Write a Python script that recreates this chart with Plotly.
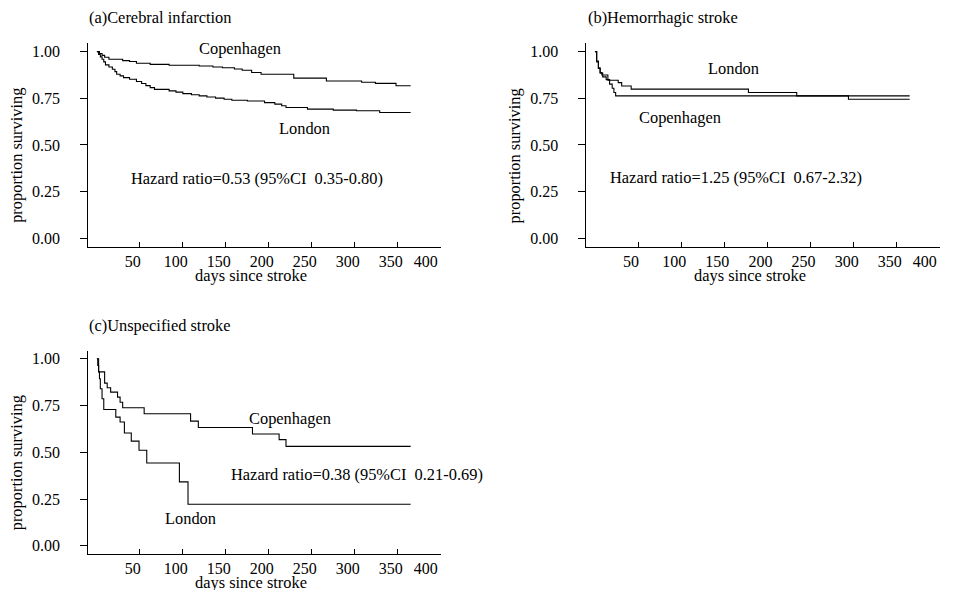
import plotly.graph_objects as go

W, H = 956, 590

# ---------------- data ----------------
# (a) Cerebral infarction
a_cph_days = [0, 3, 6, 9, 14, 30, 38, 46, 62, 84, 119, 135, 146, 160, 169, 180, 191, 229, 267, 308, 324, 348, 365]
a_cph_surv = [1.0, 0.99, 0.98, 0.97, 0.959, 0.952, 0.947, 0.938, 0.932, 0.927, 0.923, 0.918, 0.914, 0.907, 0.900,
              0.888, 0.879, 0.858, 0.843, 0.836, 0.830, 0.817, 0.817]
a_lon_days = [0, 2, 4, 6, 8, 10, 14, 18, 21, 23, 27, 31, 38, 46, 52, 57, 62, 67, 84, 92, 100, 110, 119, 128, 138,
              148, 157, 175, 195, 207, 215, 220, 245, 275, 302, 329, 365]
a_lon_surv = [1.0, 0.985, 0.972, 0.959, 0.945, 0.929, 0.918, 0.906, 0.893, 0.879, 0.870, 0.861, 0.852, 0.840, 0.829,
              0.818, 0.807, 0.798, 0.790, 0.783, 0.775, 0.769, 0.763, 0.757, 0.751, 0.745, 0.740, 0.736, 0.727,
              0.719, 0.710, 0.701, 0.692, 0.687, 0.683, 0.674, 0.674]

# (b) Hemorrhagic stroke
b_lon_days = [0, 2, 4, 6, 8, 15, 27, 31, 42, 178, 234, 294, 365]
b_lon_surv = [1.0, 0.95, 0.914, 0.888, 0.875, 0.847, 0.834, 0.816, 0.799, 0.781, 0.763, 0.745, 0.745]
b_cph_days = [0, 2, 4, 6, 9, 13, 17, 20, 22, 24, 365]
b_cph_surv = [1.0, 0.945, 0.91, 0.885, 0.865, 0.850, 0.826, 0.804, 0.781, 0.763, 0.763]

# (c) Unspecified stroke
c_cph_days = [0, 2, 9, 12, 16, 24, 27, 30, 55, 109, 118, 181, 212, 220, 365]
c_cph_surv = [1.0, 0.930, 0.870, 0.845, 0.822, 0.795, 0.768, 0.738, 0.706, 0.667, 0.633, 0.598, 0.568, 0.532, 0.532]
c_lon_days = [0, 1, 2, 3, 4, 6, 8, 22, 27, 32, 40, 49, 58, 96, 106, 365]
c_lon_surv = [1.0, 0.964, 0.93, 0.893, 0.84, 0.786, 0.729, 0.688, 0.662, 0.603, 0.560, 0.511, 0.443, 0.342, 0.222, 0.222]

x_tickvals = [50, 100, 150, 200, 250, 300, 350, 400]
x_ticktext = ["50", "100", "150", "200", "250", "300", "350", "400\u2003"]
y_tickvals = [0, 0.25, 0.5, 0.75, 1.0]
y_ticktext = ["0.00", "0.25", "0.50", "0.75", "1.00"]

panel_titles = ["(a)Cerebral infarction", "(b)Hemorrhagic stroke", "(c)Unspecified stroke"]
hazard_texts = ["Hazard ratio=0.53 (95%CI \u00a00.35-0.80)",
                "Hazard ratio=1.25 (95%CI \u00a00.67-2.32)",
                "Hazard ratio=0.38 (95%CI \u00a00.21-0.69)"]
x_title = "days since stroke"
y_title = "proportion surviving"

# ---------------- layout helpers ----------------
FONT = "Liberation Serif"
OFF = 8  # default body margin of the html page


def px(x):
    return (x - OFF) / W


def py(y):
    return 1 - (y - OFF) / H


fig = go.Figure()
line = dict(color="black", width=1.1, shape="hv")
series = [
    (a_cph_days, a_cph_surv, "x", "y"),
    (a_lon_days, a_lon_surv, "x", "y"),
    (b_lon_days, b_lon_surv, "x2", "y2"),
    (b_cph_days, b_cph_surv, "x2", "y2"),
    (c_cph_days, c_cph_surv, "x3", "y3"),
    (c_lon_days, c_lon_surv, "x3", "y3"),
]
for xs, ys, xa, ya in series:
    fig.add_trace(go.Scatter(x=xs, y=ys, mode="lines", line=line, xaxis=xa, yaxis=ya,
                             hoverinfo="skip", showlegend=False))


def xaxis(domain, rng, anchor):
    return dict(domain=domain, range=rng, anchor=anchor, showline=True, linecolor="black", linewidth=1,
                ticks="inside", ticklen=5, tickcolor="black", tickwidth=1,
                tickvals=x_tickvals, ticktext=x_ticktext, showgrid=False, zeroline=False,
                tickfont=dict(family=FONT, size=16, color="black"),
                ticklabelshift=-7, ticklabelstandoff=0, fixedrange=True)


def yaxis(domain, rng, anchor, standoff):
    return dict(domain=domain, range=rng, anchor=anchor, showline=True, linecolor="black", linewidth=1,
                ticks="outside", ticklen=7, tickcolor="black", tickwidth=1,
                tickvals=y_tickvals, ticktext=y_ticktext, showgrid=False, zeroline=False,
                tickfont=dict(family=FONT, size=16, color="black"),
                ticklabelstandoff=standoff, fixedrange=True)


fig.update_layout(
    width=W, height=H,
    margin=dict(l=0, r=0, t=0, b=0),
    paper_bgcolor="white", plot_bgcolor="rgba(0,0,0,0)",
    showlegend=False,
    xaxis=xaxis([px(89.4), px(446.7)], [-10, 400], "y"),
    yaxis=yaxis([py(246.7), py(42.3)], [-0.048, 1.045], "x", 17),
    xaxis2=xaxis([px(594.3), px(952.7)], [-10, 400], "y2"),
    yaxis2=yaxis([py(246.7), py(42.3)], [-0.048, 1.045], "x2", 17),
    xaxis3=xaxis([px(89.4), px(446.7)], [-10, 400], "y3"),
    yaxis3=yaxis([py(554), py(350.7)], [-0.044, 1.041], "x3", 17),
)

tf = dict(family=FONT, size=16.4, color="black")
ann = []


def text(x, y, s, xanchor="center", angle=0):
    ann.append(dict(x=px(x), y=py(y), xref="paper", yref="paper", text=s, showarrow=False,
                    xanchor=xanchor, yanchor="middle", font=tf, textangle=angle))


# panel titles
text(88.3, 17, panel_titles[0], "left")
text(594.3, 17, panel_titles[1], "left")
text(88.3, 325.5, panel_titles[2], "left")
# curve labels
text(243.3, 48, "Copenhagen")
text(309, 128, "London")
text(743, 68, "London")
text(689.7, 117, "Copenhagen")
text(294, 418, "Copenhagen")
text(192.8, 518, "London")
# hazard ratios
text(260, 178, hazard_texts[0])
text(746.2, 177, hazard_texts[1])
text(231.7, 474, hazard_texts[2], "left")
# axis titles
text(254, 275, x_title)
text(760, 275, x_title)
text(254.3, 582, x_title)
text(16.7, 154.5, y_title, angle=-90)
text(521.7, 155, y_title, angle=-90)
text(16.7, 462.5, y_title, angle=-90)

fig.update_layout(annotations=ann)
fig.write_html("out.html")
